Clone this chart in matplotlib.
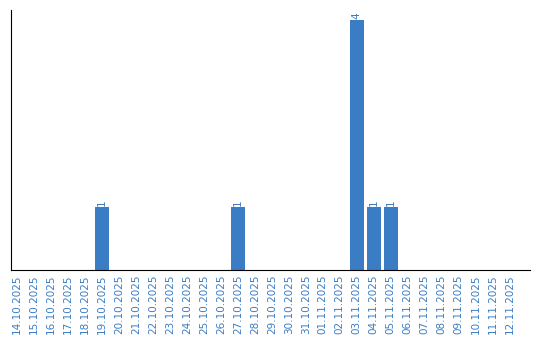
import matplotlib
matplotlib.use('Agg')
import matplotlib.pyplot as plt

dates = ['14.10.2025', '15.10.2025', '16.10.2025', '17.10.2025', '18.10.2025',
         '19.10.2025', '20.10.2025', '21.10.2025', '22.10.2025', '23.10.2025',
         '24.10.2025', '25.10.2025', '26.10.2025', '27.10.2025', '28.10.2025',
         '29.10.2025', '30.10.2025', '31.10.2025', '01.11.2025', '02.11.2025',
         '03.11.2025', '04.11.2025', '05.11.2025', '06.11.2025', '07.11.2025',
         '08.11.2025', '09.11.2025', '10.11.2025', '11.11.2025', '12.11.2025']
counts = [0, 0, 0, 0, 0, 1, 0, 0, 0, 0, 0, 0, 0, 1, 0,
          0, 0, 0, 0, 0, 4, 1, 1, 0, 0, 0, 0, 0, 0, 0]

blue = '#3b7dc4'

fig = plt.figure(figsize=(5.4, 3.4), dpi=100)
ax = fig.add_axes([0.0204, 0.206, 0.9606, 0.765])

x = list(range(len(dates)))
ax.bar(x, counts, width=0.82, color=blue)

# valori sopra le barre
for i, v in enumerate(counts):
    if v > 0:
        ax.text(i, v + 0.02, str(v), rotation=90, ha='center', va='bottom',
                color=blue, fontsize=7.5)

ax.set_xticks(x)
ax.set_xticklabels(dates, rotation=90, color=blue, fontsize=7.5)
ax.tick_params(axis='x', length=0, pad=3)
ax.set_yticks([])
ax.set_xlim(-0.35, 30.18)
ax.set_ylim(0, 4.16)
ax.spines['top'].set_visible(False)
ax.spines['right'].set_visible(False)

fig.savefig('out.png', dpi=100)
